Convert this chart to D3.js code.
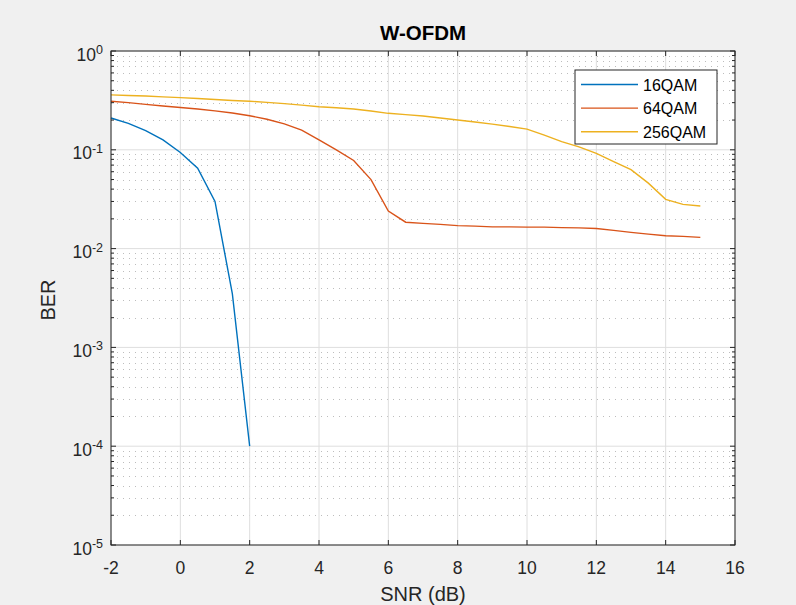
<!DOCTYPE html>
<html><head><meta charset="utf-8">
<script src="https://cdn.jsdelivr.net/npm/d3@7"></script>
<style>
html,body{margin:0;padding:0;background:#f0f0f0;}
text{font-family:"Liberation Sans",Arial,Helvetica,sans-serif;}
</style></head>
<body>
<svg id="c" width="796" height="605"></svg>
<script>
const snr16 = [-2,-1.5,-1,-0.5,0,0.5,1,1.5,2];
const ber16 = [0.21,0.185,0.156,0.126,0.094,0.065,0.030,0.0035,0.0001];
const snr = [-2,-1.5,-1,-0.5,0,0.5,1,1.5,2,2.5,3,3.5,4,4.5,5,5.5,6,6.5,7,7.5,8,8.5,9,9.5,10,10.5,11,11.5,12,12.5,13,13.5,14,14.5,15];
const ber64 = [0.31,0.30,0.288,0.278,0.268,0.259,0.248,0.236,0.221,0.204,0.183,0.158,0.126,0.10,0.078,0.05,0.024,0.0185,0.018,0.0176,0.0171,0.0169,0.0166,0.0166,0.0165,0.0165,0.0163,0.0162,0.016,0.0153,0.0146,0.014,0.0135,0.0133,0.013];
const ber256 = [0.36,0.355,0.35,0.343,0.337,0.33,0.323,0.316,0.31,0.302,0.293,0.283,0.273,0.266,0.259,0.247,0.234,0.227,0.22,0.21,0.2,0.191,0.182,0.172,0.162,0.141,0.121,0.107,0.092,0.076,0.063,0.046,0.0315,0.028,0.027];
const seriesNames = ["16QAM","64QAM","256QAM"];
const colors = ["#0072BD","#D95319","#EDB120"];
const xTicks = [-2,0,2,4,6,8,10,12,14,16];
const yExps = [0,-1,-2,-3,-4,-5];
const titleText = "W-OFDM", xLabel = "SNR (dB)", yLabel = "BER";

const L=111, R=735, T=51, B=545;
const svg = d3.select("#c");
const x = d3.scaleLinear().domain([-2,16]).range([L,R]);
const y = d3.scaleLog().domain([1e-5,1]).range([B,T]);

svg.append("rect").attr("x",L).attr("y",T).attr("width",R-L).attr("height",B-T).attr("fill","#fff");

// minor grid
const minors=[];
for(let e=-5;e<0;e++) for(let m=2;m<=9;m++) minors.push(m*Math.pow(10,e));
const g = svg.append("g");
g.selectAll(".mg").data(minors).join("line")
 .attr("x1",L).attr("x2",R).attr("y1",d=>Math.round(y(d))+0.5).attr("y2",d=>Math.round(y(d))+0.5)
 .attr("stroke","#bdbdbd").attr("stroke-width",1).attr("stroke-dasharray","1,5");
// major grid
g.selectAll(".gx").data(xTicks).join("line")
 .attr("x1",d=>x(d)).attr("x2",d=>x(d)).attr("y1",T).attr("y2",B)
 .attr("stroke","#dedede").attr("stroke-width",1);
g.selectAll(".gy").data(yExps.map(e=>Math.pow(10,e))).join("line")
 .attr("x1",L).attr("x2",R).attr("y1",d=>y(d)).attr("y2",d=>y(d))
 .attr("stroke","#dedede").attr("stroke-width",1);

// lines
const line = d3.line().x(d=>x(d[0])).y(d=>y(d[1]));
const data = [snr16.map((s,i)=>[s,ber16[i]]), snr.map((s,i)=>[s,ber64[i]]), snr.map((s,i)=>[s,ber256[i]])];
svg.selectAll(".ln").data(data).join("path")
 .attr("d",line).attr("fill","none").attr("stroke",(d,i)=>colors[i]).attr("stroke-width",1.4);

// axes box and ticks
const ax = svg.append("g").attr("stroke","#262626").attr("stroke-width",1);
ax.append("rect").attr("x",L).attr("y",T).attr("width",R-L).attr("height",B-T).attr("fill","none");
xTicks.forEach(t=>{
  ax.append("line").attr("x1",x(t)).attr("x2",x(t)).attr("y1",B).attr("y2",B-5);
  ax.append("line").attr("x1",x(t)).attr("x2",x(t)).attr("y1",T).attr("y2",T+5);
});
yExps.forEach(e=>{
  const v=y(Math.pow(10,e));
  ax.append("line").attr("x1",L).attr("x2",L+5).attr("y1",v).attr("y2",v);
  ax.append("line").attr("x1",R).attr("x2",R-5).attr("y1",v).attr("y2",v);
});
minors.forEach(m=>{
  const v=y(m);
  ax.append("line").attr("x1",L).attr("x2",L+3).attr("y1",v).attr("y2",v);
  ax.append("line").attr("x1",R).attr("x2",R-3).attr("y1",v).attr("y2",v);
});

// tick labels
svg.selectAll(".xl").data(xTicks).join("text")
 .attr("x",d=>x(d)).attr("y",B+28.5).attr("text-anchor","middle")
 .attr("font-size",17.5).attr("fill","#262626").text(d=>d);
yExps.forEach(e=>{
  const t = svg.append("text").attr("x",L-8).attr("y",y(Math.pow(10,e))+9.5)
   .attr("text-anchor","end").attr("fill","#262626").attr("font-size",17.5);
  t.append("tspan").text("10");
  t.append("tspan").attr("font-size",12.5).attr("dy",-6.5).text(e);
});

svg.append("text").attr("x",(L+R)/2).attr("y",40).attr("text-anchor","middle")
 .attr("font-size",20.5).attr("font-weight","bold").attr("fill","#000").text(titleText);
svg.append("text").attr("x",(L+R)/2).attr("y",601).attr("text-anchor","middle")
 .attr("font-size",20).attr("fill","#262626").text(xLabel);
svg.append("text").attr("transform","translate(55,"+((T+B)/2+2)+") rotate(-90)").attr("text-anchor","middle")
 .attr("font-size",20).attr("fill","#262626").text(yLabel);

// legend
const lg = svg.append("g");
lg.append("rect").attr("x",575).attr("y",70).attr("width",142).attr("height",74)
 .attr("fill","#fff").attr("stroke","#262626").attr("stroke-width",1);
seriesNames.forEach((n,i)=>{
  const yy = 84.5 + i*23.6;
  lg.append("line").attr("x1",581).attr("x2",638).attr("y1",yy).attr("y2",yy).attr("stroke",colors[i]).attr("stroke-width",1.4);
  lg.append("text").attr("x",643).attr("y",yy+6).attr("font-size",16).attr("fill","#000").text(n);
});
</script>
</body></html>
